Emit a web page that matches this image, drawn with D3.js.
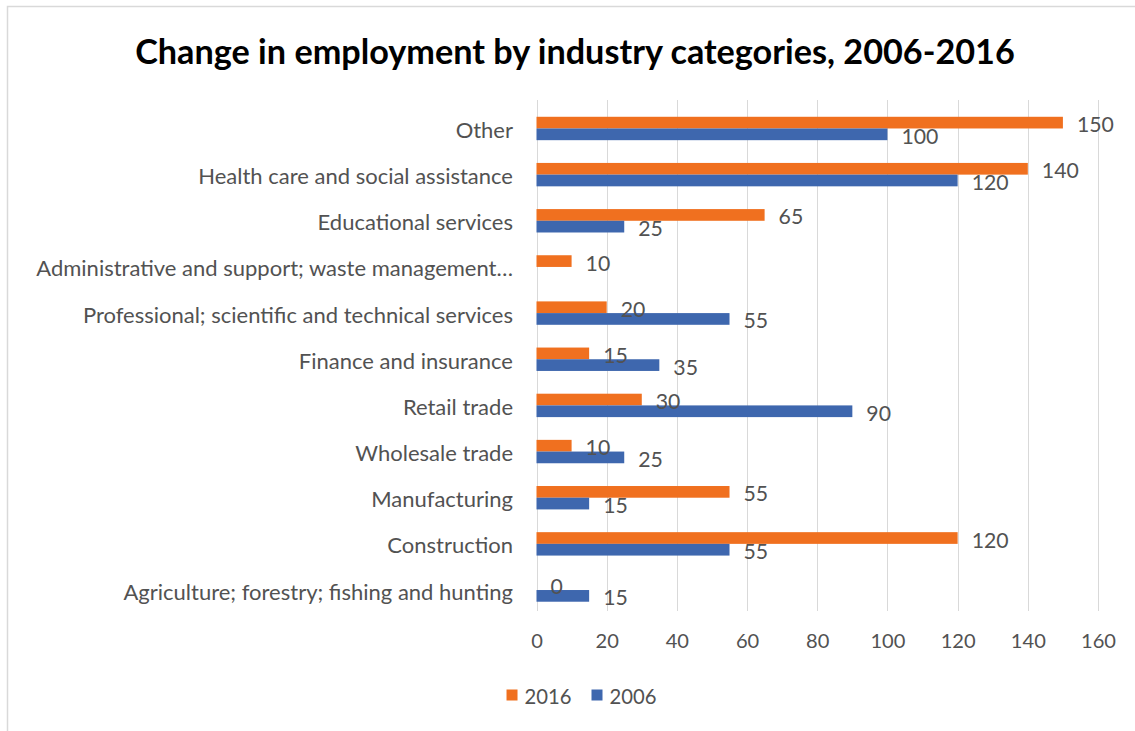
<!DOCTYPE html>
<html>
<head>
<meta charset="utf-8">
<script src="https://cdn.jsdelivr.net/npm/d3@7"></script>
<style>
  body { margin: 0; background: #fff; }
  text { font-family: Lato, "Open Sans", sans-serif; }
</style>
</head>
<body>
<svg id="chart" width="1135" height="731"></svg>
<script>
// ---- data (top row first) ----
const categories = [
  "Other",
  "Health care and social assistance",
  "Educational services",
  "Administrative and support; waste management\u2026",
  "Professional; scientific and technical services",
  "Finance and insurance",
  "Retail trade",
  "Wholesale trade",
  "Manufacturing",
  "Construction",
  "Agriculture; forestry; fishing and hunting"
];
const values2016 = [150, 140, 65, 10, 20, 15, 30, 10, 55, 120, 0];
const values2006 = [100, 120, 25, null, 55, 35, 90, 25, 15, 55, 15];
const seriesNames = ["2016", "2006"];
const seriesColors = ["#f0701f", "#3e67ae"];
const xTicks = [0, 20, 40, 60, 80, 100, 120, 140, 160];
const titleText = "Change in employment by industry categories, 2006-2016";

const rows = categories.map((c, i) => ({
  category: c,
  values: [
    { series: seriesNames[0], value: values2016[i] },
    { series: seriesNames[1], value: values2006[i] }
  ]
}));

const svg = d3.select("#chart");
const textColor = "#525252";
const gridColor = "#d9d9d9";

// scale a text element's font so it spans the given width
function fitFont(sel, targetWidth) {
  const fs = parseFloat(sel.attr("font-size"));
  const w = sel.node().getComputedTextLength();
  const size = fs * targetWidth / w;
  sel.attr("font-size", size);
  return size;
}
function measureSize(str, weight, targetWidth) {
  const t = svg.append("text").attr("font-size", 20).attr("font-weight", weight).text(str);
  const s = fitFont(t, targetWidth);
  t.remove();
  return s;
}

// chart frame
svg.append("path")
  .attr("d", "M7.5,731 V6.5 H1135")
  .attr("fill", "none")
  .attr("stroke", gridColor)
  .attr("stroke-width", 1.5);

// scales
const x = d3.scaleLinear().domain([0, 160]).range([536.5, 1098]);
const y = d3.scaleBand().domain(categories).range([105.4, 613.1])
  .paddingInner(0.493).paddingOuter(0.2465);
const ySub = d3.scaleBand().domain(seriesNames).range([0, y.bandwidth()]);
const color = d3.scaleOrdinal().domain(seriesNames).range(seriesColors);

const gridTop = 100, gridBottom = 611;

// vertical gridlines (including the value axis at 0)
svg.append("g").selectAll("line")
  .data(xTicks)
  .join("line")
  .attr("x1", d => Math.round(x(d)) + 0.5)
  .attr("x2", d => Math.round(x(d)) + 0.5)
  .attr("y1", gridTop)
  .attr("y2", gridBottom)
  .attr("stroke", gridColor)
  .attr("stroke-width", 1);

// tick labels along the bottom
const tickSize = measureSize("160", 400, 35);
const xAxis = d3.axisBottom(x).tickValues(xTicks).tickSize(0).tickPadding(0);
const axisG = svg.append("g")
  .attr("transform", `translate(0, 634)`)
  .call(xAxis);
axisG.select(".domain").remove();
axisG.selectAll("text")
  .attr("font-size", tickSize)
  .attr("font-family", "Lato, 'Open Sans', sans-serif")
  .attr("fill", textColor)
  .attr("dy", "0.71em");

// category labels
const catSize = measureSize("Health care and social assistance", 400, 315);
svg.append("g").selectAll("text")
  .data(categories)
  .join("text")
  .attr("x", 513)
  .attr("y", d => y(d) + y.bandwidth() / 2 + 1)
  .attr("text-anchor", "end")
  .attr("dominant-baseline", "central")
  .attr("font-size", catSize)
  .attr("fill", textColor)
  .text(d => d);

// bars
const groups = svg.append("g").selectAll("g")
  .data(rows)
  .join("g")
  .attr("transform", d => `translate(0, ${y(d.category)})`);

groups.selectAll("rect")
  .data(d => d.values.filter(v => v.value !== null))
  .join("rect")
  .attr("x", x(0))
  .attr("y", d => ySub(d.series))
  .attr("width", d => x(d.value) - x(0))
  .attr("height", ySub.bandwidth())
  .attr("fill", d => color(d.series));

// value labels
const labelSize = measureSize("150", 400, 37);
groups.selectAll("text")
  .data(d => d.values.filter(v => v.value !== null))
  .join("text")
  .attr("x", d => x(d.value) + 14)
  .attr("y", d => ySub(d.series) + ySub.bandwidth() / 2 + 1.5)
  .attr("dominant-baseline", "central")
  .attr("font-size", labelSize)
  .attr("fill", textColor)
  .text(d => d.value);

// title
const titleSize = measureSize(titleText, 700, 880);
svg.append("text")
  .attr("x", 575)
  .attr("y", 64)
  .attr("text-anchor", "middle")
  .attr("font-size", titleSize)
  .attr("font-weight", 700)
  .attr("fill", "#000")
  .text(titleText);

// legend
const legend = svg.append("g");
const legendSize = measureSize("2016", 400, 47);
let lx = 0;
seriesNames.forEach((name, i) => {
  legend.append("rect")
    .attr("x", lx).attr("y", -5.5)
    .attr("width", 11).attr("height", 11)
    .attr("fill", color(name));
  const t = legend.append("text")
    .attr("x", lx + 18)
    .attr("y", 1)
    .attr("dominant-baseline", "central")
    .attr("font-size", legendSize)
    .attr("fill", textColor)
    .text(name);
  lx += 18 + t.node().getComputedTextLength() + 20;
});
const lw = legend.node().getBBox().width;
legend.attr("transform", `translate(${581.5 - lw / 2}, 695)`);
</script>
</body>
</html>
